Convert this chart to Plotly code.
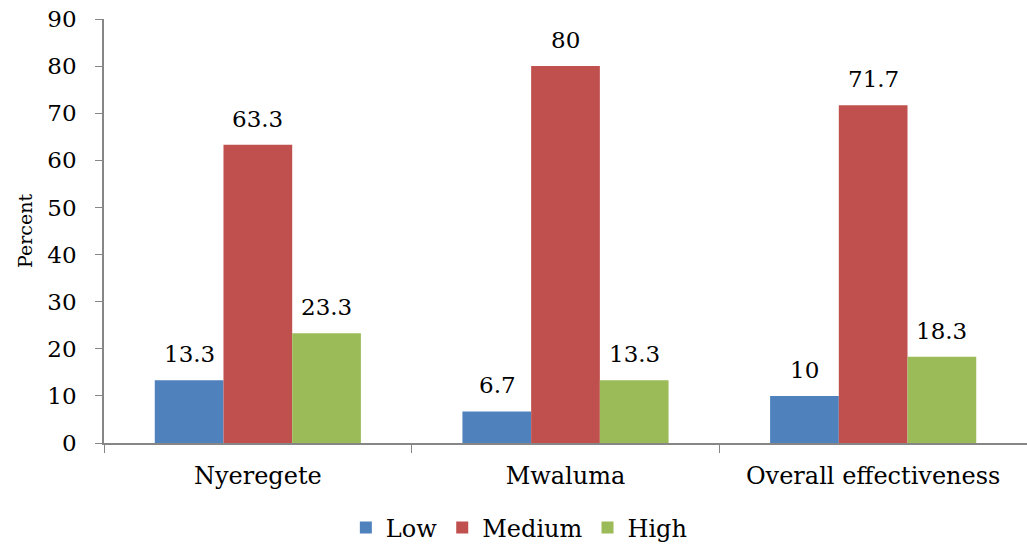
import plotly.graph_objects as go

categories = ["Nyeregete", "Mwaluma", "Overall effectiveness"]
series_names = ["Low", "Medium", "High"]
low = [13.3, 6.7, 10]
medium = [63.3, 80, 71.7]
high = [23.3, 13.3, 18.3]
y_ticks = [0, 10, 20, 30, 40, 50, 60, 70, 80, 90]

colors = ["#4F81BD", "#C0504D", "#9BBB59"]
font_family = "DejaVu Serif"

fig = go.Figure()
values = [low, medium, high]
for name, vals, col in zip(series_names, values, colors):
    fig.add_trace(go.Bar(
        name=name, x=categories, y=vals,
        marker=dict(color=col, line=dict(width=0)),
    ))

# value labels above each bar, offset horizontally to the bar slot
bar_px = 68.5
for i, vals in enumerate(values):
    for cat, v in zip(categories, vals):
        fig.add_annotation(
            x=cat, y=v, text=f"{v:g}", showarrow=False,
            xref="x", yref="y", xanchor="center", yanchor="bottom",
            xshift=(i - 1) * bar_px, yshift=11,
            font=dict(family=font_family, size=23, color="#000000"),
        )

fig.update_layout(
    width=1027, height=545,
    margin=dict(l=104, r=0, t=19, b=102, autoexpand=False),
    paper_bgcolor="white", plot_bgcolor="white",
    barmode="group", bargap=0.33, bargroupgap=0,
    font=dict(family=font_family, size=23, color="#000000"),
    showlegend=True,
    legend=dict(
        orientation="h", xref="paper", yref="paper",
        x=0.45, y=-0.2, xanchor="center", yanchor="middle",
        font=dict(family=font_family, size=24, color="#000000"),
        itemwidth=30, tracegroupgap=0,
    ),
    xaxis=dict(
        type="category", range=[-0.5, 2.5],
        showline=True, linecolor="#868686", linewidth=1.5,
        ticks="outside", tickson="boundaries", ticklen=8,
        tickcolor="#868686", ticklabelstandoff=10,
        tickfont=dict(family=font_family, size=24, color="#000000"),
        showgrid=False, zeroline=False,
    ),
    yaxis=dict(
        range=[0, 90], tickvals=y_ticks,
        showline=True, linecolor="#868686", linewidth=1.5,
        ticks="outside", ticklen=7, tickcolor="#868686",
        ticklabelstandoff=14,
        tickfont=dict(family=font_family, size=23, color="#000000"),
        showgrid=False, zeroline=False,
        title=dict(text="Percent", standoff=10,
                   font=dict(family=font_family, size=19, color="#000000")),
    ),
)

fig.write_html("out.html")
